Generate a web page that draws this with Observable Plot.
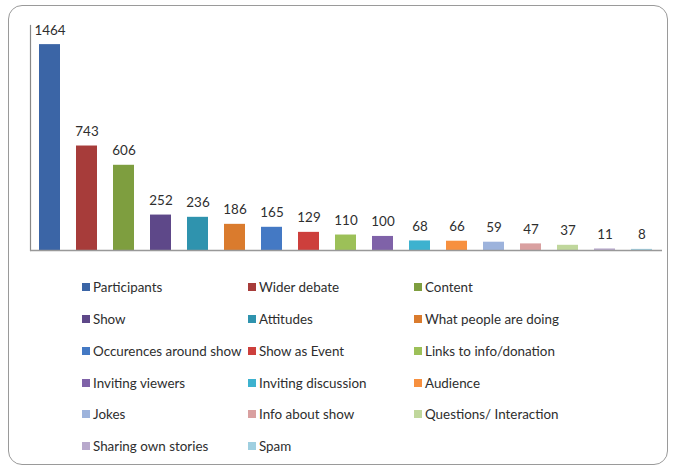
<!DOCTYPE html>
<html>
<head>
<meta charset="utf-8">
<script src="https://cdn.jsdelivr.net/npm/d3@7"></script>
<script src="https://cdn.jsdelivr.net/npm/@observablehq/plot@0.6"></script>
<style>
  html, body { margin: 0; padding: 0; background: #fff; }
  #frame { position: absolute; left: 8px; top: 5px; width: 660px; height: 460px; box-sizing: border-box;
           border: 1px solid #9a9a9a; border-radius: 14px; }
  #chart { position: absolute; left: 0; top: 0; }
  .item { position: absolute; font-family: Lato, sans-serif; font-size: 13.4px; color: #2e2e2e; white-space: nowrap; line-height: 16px; }
  .sw { position: absolute; width: 8px; height: 8px; left: 0; top: 4px; }
  .lbl { position: absolute; left: 11px; top: 0; }
</style>
</head>
<body>
<div id="frame"></div>
<div id="chart"></div>
<div id="legend"></div>
<script>
const categories = ["Participants", "Wider debate", "Content", "Show", "Attitudes", "What people are doing",
  "Occurences around show", "Show as Event", "Links to info/donation", "Inviting viewers", "Inviting discussion",
  "Audience", "Jokes", "Info about show", "Questions/ Interaction", "Sharing own stories", "Spam"];
const values = [1464, 743, 606, 252, 236, 186, 165, 129, 110, 100, 68, 66, 59, 47, 37, 11, 8];
const palette = ["#3b65a6", "#a73c3a", "#7e9e3f", "#5e4889", "#2f93ae", "#da7b2d",
  "#4479c4", "#cd3f3c", "#9cc058", "#7f62a8", "#3db2cf", "#f7903f",
  "#9db3dc", "#d9a0a0", "#c0d79c", "#b8a9cc", "#9fcfe0"];

const data = categories.map((c, i) => ({category: c, value: values[i]}));

const chart = Plot.plot({
  width: 673,
  height: 262,
  marginLeft: 30,
  marginRight: 11,
  marginTop: 25,
  marginBottom: 12,
  style: {fontFamily: "Lato, sans-serif", fontSize: "13px", color: "#2e2e2e", background: "transparent"},
  x: {domain: categories, axis: null, paddingInner: 0.43, paddingOuter: 0.15},
  y: {domain: [0, 1600], axis: null},
  color: {domain: categories, range: palette},
  marks: [
    Plot.barY(data, {x: "category", y: "value", fill: "category"}),
    Plot.frame({anchor: "left", stroke: "#888", strokeWidth: 1.2}),
    Plot.ruleY([0], {stroke: "#999", strokeWidth: 1.5}),
    Plot.text(data, {x: "category", y: "value", text: d => String(d.value), lineAnchor: "bottom", dy: -10, fill: "#2e2e2e", fontSize: 13.4})
  ]
});
document.getElementById("chart").appendChild(chart);

const legend = document.getElementById("legend");
const colX = [82, 248, 414];
const rowY = [279, 311, 343, 375, 406, 438];
categories.forEach((c, i) => {
  const item = document.createElement("div");
  item.className = "item";
  item.style.left = colX[i % 3] + "px";
  item.style.top = rowY[Math.floor(i / 3)] + "px";
  const sw = document.createElement("div");
  sw.className = "sw";
  sw.style.background = palette[i];
  const lbl = document.createElement("div");
  lbl.className = "lbl";
  lbl.textContent = c;
  item.appendChild(sw);
  item.appendChild(lbl);
  legend.appendChild(item);
});
</script>
</body>
</html>
